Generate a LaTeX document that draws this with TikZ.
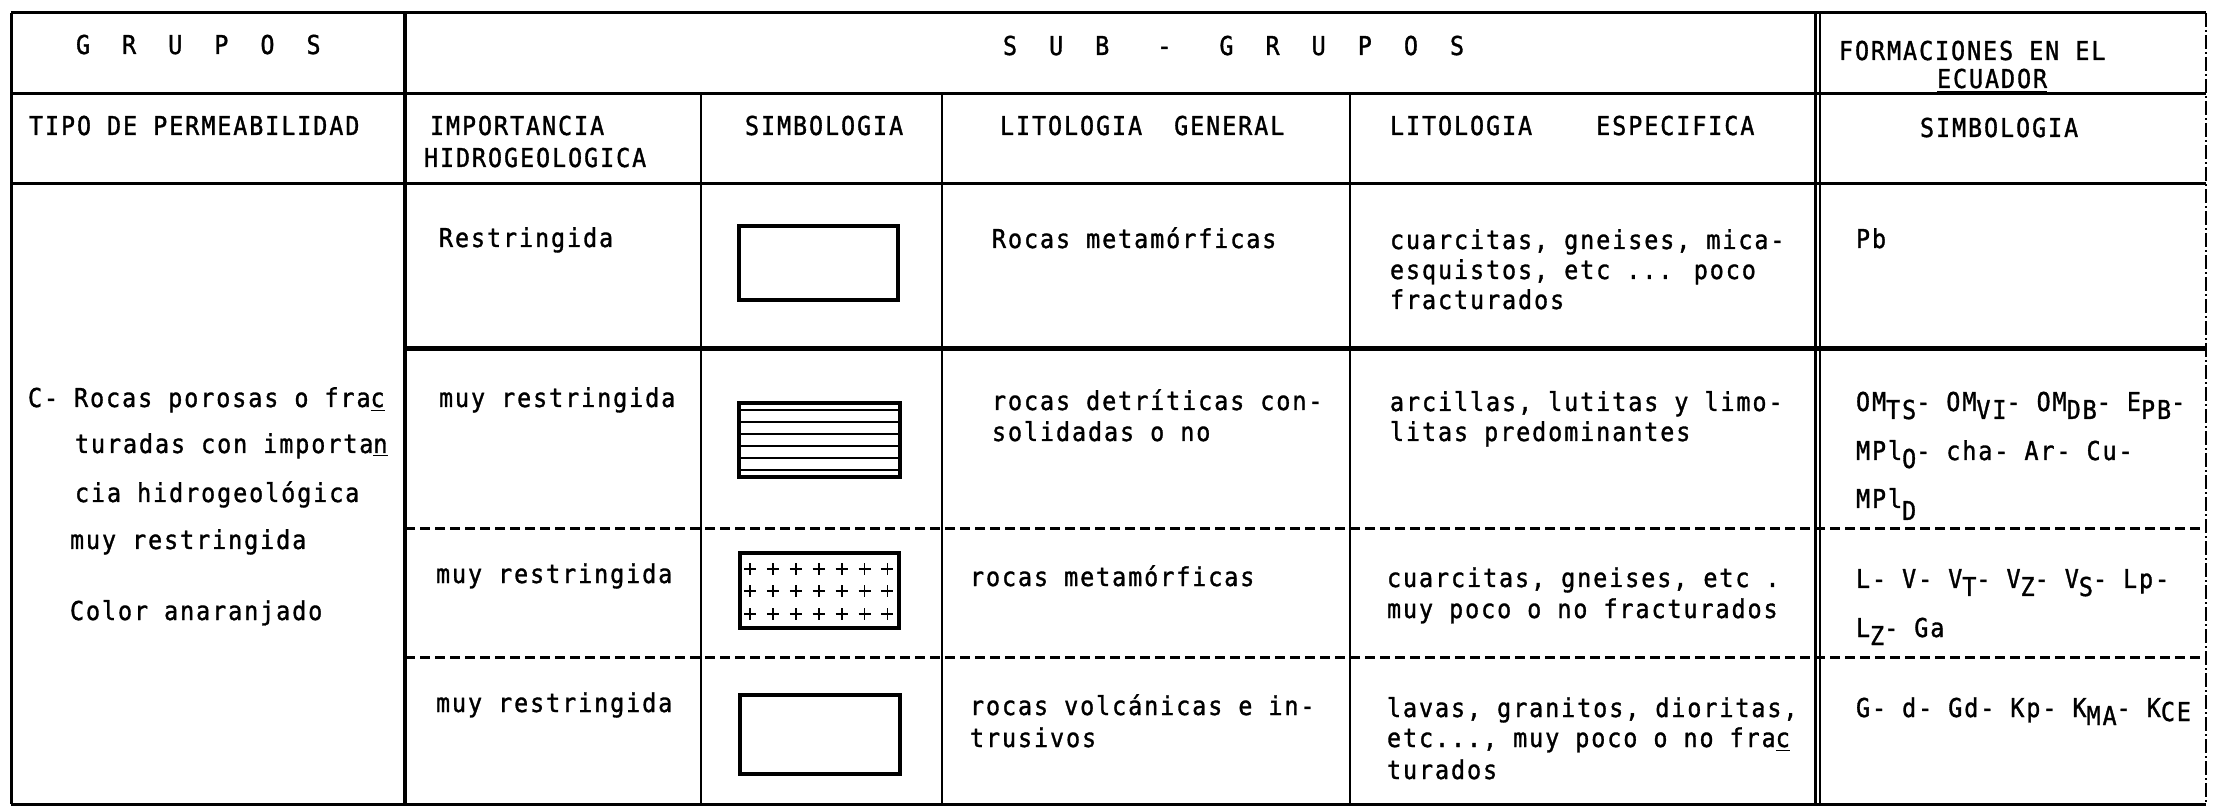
\documentclass[tikz,border=0pt]{standalone}
\usepackage{fontspec}
\newfontfamily\tw[FakeStretch=0.9,LetterSpace=7.4,FakeBold=1.2]{DejaVu Sans Mono}
\newcommand\sbs[1]{\raisebox{-4pt}{#1}}
\newcommand\sbd[1]{\raisebox{-6pt}{#1}}
\newcommand\sbc[1]{\raisebox{-2pt}{#1}}
\begin{document}
\begin{tikzpicture}[x=0.5pt,y=-0.5pt,
  txt/.style={anchor=base west,inner sep=0pt,outer sep=0pt,font=\tw\fontsize{13pt}{15pt}\selectfont},
  rule/.style={line width=1.5pt},
  heavyrule/.style={line width=2.5pt},
  thickrule/.style={line width=2.3pt},
  thinrule/.style={line width=1.1pt},
  dashrule/.style={line width=1.5pt,dash pattern=on 5pt off 2.5pt},
  borderrule/.style={line width=0.6pt,dash pattern=on 7pt off 1.5pt on 1pt off 1.5pt},
  symbox/.style={line width=2pt},
  hatch/.style={line width=1pt},
  plusmark/.style={line width=0.9pt}]
\useasboundingbox (0,0) rectangle (2226,806);
\fill[white] (0,0) rectangle (2226,806);
% ---- table rules
\draw[rule] (11,13) -- (2206,13);
\draw[rule] (11,94) -- (2206,94);
\draw[rule] (11,184) -- (2206,184);
\draw[rule] (11,804) -- (2206,804);
\draw[rule] (11,13) -- (11,804);
\draw[thickrule] (405,13) -- (405,804);
\draw[rule] (1815,13) -- (1815,804);
\draw[thinrule] (1820,13) -- (1820,804);
\draw[borderrule] (2206,13) -- (2206,804);
\draw[thinrule] (701,94) -- (701,804);
\draw[thinrule] (942,94) -- (942,804);
\draw[thinrule] (1350,94) -- (1350,804);
\draw[heavyrule] (405,349) -- (2206,349);
\draw[dashrule] (405,529) -- (2206,529);
\draw[dashrule] (405,657) -- (2206,657);
% ---- symbols
\draw[symbox] (739,226) rectangle (898,300);
\draw[symbox] (739,403) rectangle (900,477);
\foreach \yy in {410,422,434,446,458,470} \draw[hatch] (739,\yy) -- (900,\yy);
\draw[symbox] (740,553) rectangle (899,628);
\foreach \yy in {569,591,614} \foreach \k in {0,...,6}
  \draw[plusmark] ({750+22.9*\k-6},\yy) -- ({750+22.9*\k+6},\yy) ({750+22.9*\k},\yy-6) -- ({750+22.9*\k},\yy+6);
\draw[symbox] (740,695) rectangle (900,774);
% ---- header
\node[txt] (hgrupos) at (76,54) {G~~R~~U~~P~~O~~S};
\node[txt] (hsub) at (1003,55) {S~~U~~B~~~-~~~G~~R~~U~~P~~O~~S};
\node[txt] (hform) at (1839,60) {FORMACIONES EN EL};
\node[txt] (hecu) at (1937,88) {\underline{ECUADOR}};
\node[txt] (htipo) at (29,135) {TIPO DE PERMEABILIDAD};
\node[txt] (himp) at (430,135) {IMPORTANCIA};
\node[txt] (hhid) at (424,167) {HIDROGEOLOGICA};
\node[txt] (hsim) at (745,135) {SIMBOLOGIA};
\node[txt] (hlg) at (1000,135) {LITOLOGIA~~GENERAL};
\node[txt] (hle) at (1390,135) {LITOLOGIA~~~~ESPECIFICA};
\node[txt] (hsim2) at (1920,137) {SIMBOLOGIA};
% ---- column 1
\node[txt] (ca) at (28,407) {C- Rocas porosas o fra\underline{c}};
\node[txt] (cb) at (75,453) {turadas con importa\underline{n}};
\node[txt] (cc) at (75,502) {cia hidrogeológica};
\node[txt] (cd) at (70,549) {muy restringida};
\node[txt] (ce) at (70,620) {Color anaranjado};
% ---- row 1
\node[txt] (ra1) at (439,247) {Restringida};
\node[txt] (rb1) at (992,248) {Rocas metamórficas};
\node[txt] (rc1) at (1390,249) {cuarcitas, gneises, mica-};
\node[txt] (rc1b) at (1390,279) {esquistos, etc ... poco};
\node[txt] (rc1c) at (1390,309) {fracturados};
\node[txt] (rd1) at (1856,248) {Pb};
% ---- row 2
\node[txt] (ra2) at (439,407) {muy restringida};
\node[txt] (rb2) at (992,410) {rocas detríticas con-};
\node[txt] (rb2b) at (992,441) {solidadas o no};
\node[txt] (rc2) at (1390,411) {arcillas, lutitas y limo-};
\node[txt] (rc2b) at (1390,441) {litas predominantes};
\node[txt] (rd2) at (1856,411) {OM\sbs{TS}- OM\sbs{VI}- OM\sbs{DB}- E\sbs{PB}-};
\node[txt] (rd2b) at (1856,460) {MPl\sbs{O}- cha- Ar- Cu-};
\node[txt] (rd2c) at (1856,508) {MPl\sbd{D}};
% ---- row 3
\node[txt] (ra3) at (436,583) {muy restringida};
\node[txt] (rb3) at (970,586) {rocas metamórficas};
\node[txt] (rc3) at (1387,587) {cuarcitas, gneises, etc .};
\node[txt] (rc3b) at (1387,618) {muy poco o no fracturados};
\node[txt] (rd3) at (1856,588) {L- V- V\sbs{T}- V\sbs{Z}- V\sbs{S}- Lp-};
\node[txt] (rd3b) at (1856,637) {L\sbs{Z}- Ga};
% ---- row 4
\node[txt] (ra4) at (436,712) {muy restringida};
\node[txt] (rb4) at (970,715) {rocas volcánicas e in-};
\node[txt] (rb4b) at (970,747) {trusivos};
\node[txt] (rc4) at (1387,717) {lavas, granitos, dioritas,};
\node[txt] (rc4b) at (1387,747) {etc..., muy poco o no fra\underline{c}};
\node[txt] (rc4c) at (1387,779) {turados};
\node[txt] (rd4) at (1856,717) {G- d- Gd- Kp- K\sbs{MA}- K\sbc{CE}};
\end{tikzpicture}
\end{document}
